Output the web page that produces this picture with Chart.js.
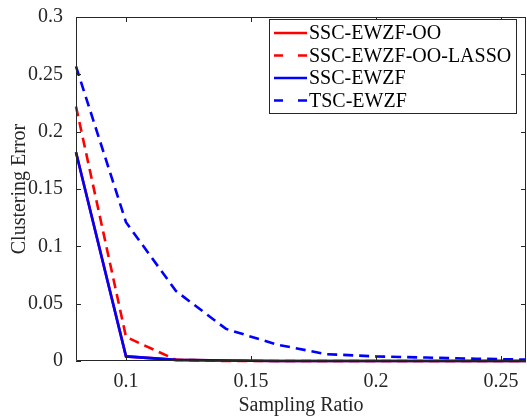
<!DOCTYPE html>
<html><head><meta charset="utf-8">
<script src="https://cdn.jsdelivr.net/npm/chart.js@4.4.1/dist/chart.umd.min.js"></script>
<style>html,body{margin:0;padding:0;background:#fff}#wrap{width:527px;height:418px}</style>
</head><body><div id="wrap"><canvas id="c" width="527" height="418"></canvas></div>
<script>
const samplingRatio = [0.08, 0.10, 0.12, 0.14, 0.16, 0.18, 0.20, 0.22, 0.24, 0.26];
const sscEwzfOO      = [0.182, 0.004, 0.001, 0.0005, 0, 0, 0, 0, 0, 0];
const sscEwzfOOLasso = [0.222, 0.021, 0.001, 0, 0, 0, 0, 0, 0, 0];
const sscEwzf        = [0.182, 0.004, 0.001, 0.0005, 0, 0, 0, 0, 0, 0];
const tscEwzf        = [0.257, 0.121, 0.061, 0.028, 0.0145, 0.006, 0.004, 0.003, 0.002, 0.0012];
const seriesNames = ['SSC-EWZF-OO', 'SSC-EWZF-OO-LASSO', 'SSC-EWZF', 'TSC-EWZF'];
const xTicks = [0.1, 0.15, 0.2, 0.25];
const xTickLabels = ['0.1', '0.15', '0.2', '0.25'];
const yTicks = [0, 0.05, 0.1, 0.15, 0.2, 0.25, 0.3];
const yTickLabels = ['0', '0.05', '0.1', '0.15', '0.2', '0.25', '0.3'];
const xTitle = 'Sampling Ratio';
const yTitle = 'Clustering Error';

const FONT = '"Liberation Serif", "Times New Roman", serif';
const AX = '#262626';
const toPts = arr => arr.map((v, i) => ({x: samplingRatio[i], y: v}));

const styles = [
  {color: '#ff0000', dash: []},
  {color: '#ff0000', dash: [10, 6]},
  {color: '#0000ff', dash: []},
  {color: '#0000ff', dash: [10, 6]}
];
const allSeries = [sscEwzfOO, sscEwzfOOLasso, sscEwzf, tscEwzf];

const boxPlugin = {
  id: 'box',
  afterDatasetsDraw(chart) {
    const {ctx, chartArea: a, scales: {x, y}} = chart;
    ctx.save();
    ctx.strokeStyle = AX; ctx.lineWidth = 1;
    ctx.beginPath();
    ctx.rect(a.left + 0.5, a.top + 0.5, a.right - a.left - 1, a.bottom - a.top - 1);
    ctx.stroke();
    const L = 5;
    ctx.beginPath();
    xTicks.forEach(t => {
      const px = Math.round(x.getPixelForValue(t)) + 0.5;
      ctx.moveTo(px, a.bottom); ctx.lineTo(px, a.bottom - L);
      ctx.moveTo(px, a.top); ctx.lineTo(px, a.top + L);
    });
    yTicks.forEach(t => {
      const py = Math.round(y.getPixelForValue(t)) + 0.5;
      ctx.moveTo(a.left, py); ctx.lineTo(a.left + L, py);
      ctx.moveTo(a.right, py); ctx.lineTo(a.right - L, py);
    });
    ctx.stroke();
    // legend
    const lx = 269, ly = 19, lw = 247, lh = 94;
    ctx.fillStyle = '#fff';
    ctx.fillRect(lx, ly, lw, lh);
    ctx.strokeStyle = AX;
    ctx.strokeRect(lx + 0.5, ly + 0.5, lw, lh);
    ctx.font = '20px ' + FONT;
    ctx.textBaseline = 'middle';
    ctx.fillStyle = '#000';
    seriesNames.forEach((name, i) => {
      const cy = 33 + i * 22.5;
      ctx.strokeStyle = styles[i].color;
      ctx.lineWidth = 2.5;
      ctx.setLineDash(styles[i].dash.length ? [9, 15] : []);
      ctx.beginPath(); ctx.moveTo(274, cy); ctx.lineTo(307, cy); ctx.stroke();
      ctx.setLineDash([]);
      ctx.fillText(name, 309, cy + 1);
    });
    ctx.restore();
  }
};

new Chart(document.getElementById('c'), {
  type: 'line',
  data: {
    datasets: allSeries.map((s, i) => ({
      label: seriesNames[i],
      data: toPts(s),
      borderColor: styles[i].color,
      borderDash: styles[i].dash,
      borderWidth: 2.6,
      pointRadius: 0,
      fill: false,
      tension: 0,
      order: 4 - i
    }))
  },
  options: {
    responsive: false,
    animation: false,
    clip: false,
    layout: {padding: {top: 10, right: 1, left: 0, bottom: 0}},
    plugins: {legend: {display: false}, tooltip: {enabled: false}},
    scales: {
      x: {
        type: 'linear', min: 0.08, max: 0.26,
        afterBuildTicks: s => { s.ticks = xTicks.map(v => ({value: v})); },
        ticks: {callback: (v) => xTickLabels[xTicks.indexOf(v)] ?? '', color: AX, font: {family: FONT, size: 20}, padding: 1, maxRotation: 0},
        grid: {display: false}, border: {display: false},
        title: {display: true, text: xTitle, color: AX, font: {family: FONT, size: 20}, padding: {top: 0, bottom: 0}},
        afterFit: s => { s.height = 57; }
      },
      y: {
        type: 'linear', min: 0, max: 0.3,
        afterBuildTicks: s => { s.ticks = yTicks.map(v => ({value: v})); },
        ticks: {callback: (v) => yTickLabels[yTicks.indexOf(v)] ?? '', color: AX, font: {family: FONT, size: 20}, padding: 5},
        grid: {display: false}, border: {display: false},
        title: {display: true, text: yTitle, color: AX, font: {family: FONT, size: 20}, padding: {top: 8, bottom: 4}},
        afterFit: s => { s.width = 76; }
      }
    }
  },
  plugins: [boxPlugin]
});
</script></body></html>
